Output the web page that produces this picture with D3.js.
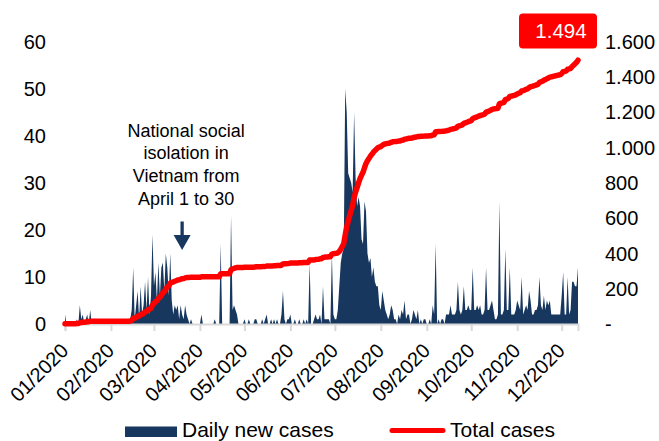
<!DOCTYPE html>
<html>
<head>
<meta charset="utf-8">
<script src="https://cdn.jsdelivr.net/npm/d3@7"></script>
<style>
  html, body { margin: 0; padding: 0; background: #ffffff; }
  svg { display: block; font-family: "Liberation Sans", Arial, Helvetica, sans-serif; }
</style>
</head>
<body>
<svg id="chart" width="659" height="441"></svg>
<script>
// First day of the series; one value per calendar day after it
const startDate = "2020-01-23";

// Daily new COVID-19 cases in Vietnam, 23 Jan 2020 - 3 Jan 2021
const dailyNew = [
  2,0,0,0,0,0,0,0,1,0,
  4,1,2,0,1,2,0,3,0,0,
  0,0,0,0,0,0,0,0,0,0,
  0,0,0,0,0,0,0,0,0,0,
  0,0,0,0,1,3,12,1,4,7,
  1,8,2,4,9,3,10,2,6,19,
  8,11,5,13,6,12,13,7,15,12,
  6,15,5,2,4,3,4,1,4,2,
  1,4,2,1,0,1,0,0,0,0,
  0,0,2,0,0,0,0,0,0,0,
  0,1,0,0,0,17,0,0,0,0,
  0,0,23,3,4,3,2,0,0,0,
  0,1,0,0,1,0,0,0,1,1,
  0,0,0,1,0,1,2,0,0,1,
  0,1,0,1,0,0,2,7,1,0,
  1,1,2,0,0,1,0,0,1,0,
  0,1,0,1,0,13,0,0,1,2,
  1,1,2,0,8,1,1,1,1,0,
  15,2,1,1,3,8,13,15,16,50,
  45,32,31,30,28,45,31,25,27,25,
  18,17,26,24,15,13,14,10,12,9,
  8,8,4,3,7,5,3,2,1,2,
  4,3,1,1,0,2,1,3,2,5,
  1,2,2,0,1,3,2,1,3,0,
  1,0,1,1,0,0,1,0,4,2,
  17,0,1,0,1,1,0,2,2,2,
  4,2,2,2,3,9,3,2,3,8,
  3,3,4,3,3,12,3,3,4,3,
  4,2,2,3,12,3,3,4,5,3,
  1,1,2,26,2,2,3,16,3,3,
  12,2,2,2,3,5,4,3,10,2,
  3,4,3,7,5,2,2,3,3,4,
  10,4,3,6,3,5,4,5,2,2,
  2,2,2,2,2,6,11,2,2,10,
  2,3,9,9,8,8,12
];

// Month ticks on the date axis
const tickDates = [
  "2020-01-23","2020-02-23","2020-03-23","2020-04-23","2020-05-23","2020-06-23",
  "2020-07-23","2020-08-23","2020-09-23","2020-10-23","2020-11-23","2020-12-23"
];
const tickLabels = [
  "01/2020","02/2020","03/2020","04/2020","05/2020","06/2020",
  "07/2020","08/2020","09/2020","10/2020","11/2020","12/2020"
];
const leftTicks = [0, 10, 20, 30, 40, 50, 60];
const rightTicks = [0, 200, 400, 600, 800, 1000, 1200, 1400, 1600];
const seriesNames = ["Daily new cases", "Total cases"];
const noteLines = ["National social", "isolation in", "Vietnam from", "April 1 to 30"];
const noteDate = "2020-04-11";

const NAVY = "#17375e";
const RED = "#ff0000";
const GRID = "#d9d9d9";

const svg = d3.select("#chart");
const parse = d3.utcParse("%Y-%m-%d");
const t0 = parse(startDate);
const dates = dailyNew.map((_, i) => d3.utcDay.offset(t0, i));
const totalCases = Array.from(d3.cumsum(dailyNew));

const x = d3.scaleUtc()
  .domain([dates[0], dates[dates.length - 1]])
  .range([65, 578]);
const yL = d3.scaleLinear().domain([0, 60]).range([324, 41.5]);
const yR = d3.scaleLinear().domain([0, 1600]).range([324, 41.5]);

// thousands separator is a dot, zero shows as a dash
const fmtThousands = v => d3.format(",")(v).replace(/,/g, ".");

// daily new cases (area, left axis)
svg.append("path")
  .datum(dailyNew)
  .attr("fill", NAVY)
  .attr("d", d3.area()
    .x((d, i) => x(dates[i]))
    .y0(yL(0))
    .y1(d => yL(d)));

// date axis
const xAxis = svg.append("g")
  .attr("transform", "translate(0,324)")
  .call(d3.axisBottom(x)
    .tickValues(tickDates.map(parse))
    .tickFormat((d, i) => tickLabels[i])
    .tickSizeOuter(0)
    .tickSize(7));
xAxis.select(".domain").attr("stroke", GRID).attr("stroke-width", 2);
xAxis.selectAll(".tick line").attr("stroke", GRID).attr("stroke-width", 2);
xAxis.selectAll(".tick text")
  .attr("x", 0).attr("y", 0).attr("dy", 0)
  .attr("text-anchor", "end")
  .attr("transform", "translate(4,28) rotate(-45)")
  .attr("fill", "#000")
  .style("font-size", "20px")
  .style("font-family", "\"Liberation Sans\", Arial, sans-serif");

// left axis labels
svg.append("g").selectAll("text")
  .data(leftTicks)
  .join("text")
  .attr("x", 46)
  .attr("y", d => yL(d))
  .attr("dy", "0.36em")
  .attr("text-anchor", "end")
  .style("font-size", "20px")
  .text(d => d);

// right axis labels
svg.append("g").selectAll("text")
  .data(rightTicks)
  .join("text")
  .attr("x", 605)
  .attr("y", d => yR(d))
  .attr("dy", "0.36em")
  .attr("text-anchor", "start")
  .style("font-size", "20px")
  .text(d => d === 0 ? "-" : fmtThousands(d));

// total cases (line, right axis)
svg.append("path")
  .datum(totalCases)
  .attr("fill", "none")
  .attr("stroke", RED)
  .attr("stroke-width", 5.5)
  .attr("stroke-linejoin", "round")
  .attr("stroke-linecap", "round")
  .attr("d", d3.line()
    .x((d, i) => x(dates[i]))
    .y(d => yR(d)));

// last value badge
const lastTotal = totalCases[totalCases.length - 1];
svg.append("rect")
  .attr("x", 519).attr("y", 13.5)
  .attr("width", 78).attr("height", 35)
  .attr("rx", 4).attr("ry", 4)
  .attr("fill", RED);
svg.append("text")
  .attr("x", 561).attr("y", 37.5)
  .attr("text-anchor", "middle")
  .attr("fill", "#ffffff")
  .style("font-size", "20.5px")
  .text(fmtThousands(lastTotal));

// lockdown note with arrow
const nx = x(parse(noteDate));
svg.append("g").selectAll("text")
  .data(noteLines)
  .join("text")
  .attr("x", nx + 4)
  .attr("y", (d, i) => 136.7 + i * 22.6)
  .attr("text-anchor", "middle")
  .style("font-size", "18px")
  .text(d => d);
svg.append("line")
  .attr("x1", nx).attr("x2", nx)
  .attr("y1", 221.5).attr("y2", 238)
  .attr("stroke", NAVY).attr("stroke-width", 3.3);
svg.append("path")
  .attr("d", `M${nx - 8.5},235 L${nx + 8.5},235 L${nx},250 Z`)
  .attr("fill", NAVY);

// legend
const legend = svg.append("g");
legend.append("rect")
  .attr("x", 125).attr("y", 426.5)
  .attr("width", 52).attr("height", 10.5)
  .attr("fill", NAVY);
legend.append("text")
  .attr("x", 182).attr("y", 437)
  .style("font-size", "21px")
  .text(seriesNames[0]);
legend.append("line")
  .attr("x1", 392).attr("x2", 443)
  .attr("y1", 430.5).attr("y2", 430.5)
  .attr("stroke", RED).attr("stroke-width", 5)
  .attr("stroke-linecap", "round");
legend.append("text")
  .attr("x", 450).attr("y", 437)
  .style("font-size", "21px")
  .text(seriesNames[1]);
</script>
</body>
</html>
